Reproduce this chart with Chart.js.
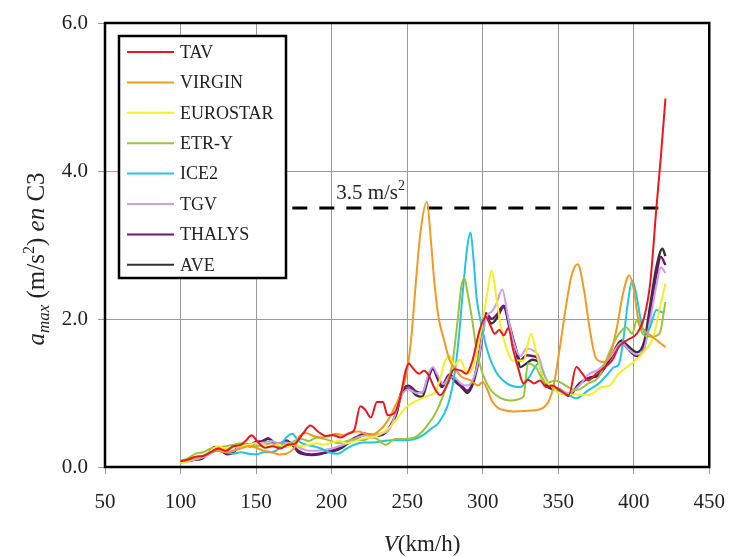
<!DOCTYPE html>
<html>
<head>
<meta charset="utf-8">
<script src="https://cdn.jsdelivr.net/npm/chart.js@4.4.1/dist/chart.umd.min.js"></script>
<style>
  html, body { margin: 0; padding: 0; background: #fff; }
  #wrap { width: 741px; height: 557px; position: relative; }
</style>
</head>
<body>
<div id="wrap"><canvas id="myChart"></canvas></div>
<script>
// series names and colours
var trainNames = ['TAV', 'VIRGIN', 'EUROSTAR', 'ETR-Y', 'ICE2', 'TGV', 'THALYS', 'AVE'];
var trainColors = ['#e8161e', '#f09a22', '#f6ee24', '#98c43a', '#22c4e0', '#c9a2e4', '#6c1676', '#333333'];

// V (km/h) and a_max (m/s2)
var tavSpeed = [100,105,110,115,120,125,130,135,140,143,147,151,156,161,166,171,176,181,186,191,196,201,206,211,215,219,222,226,230,234,237,241,245,249,251,254,258,261,264,268,272,277,281,286,289,293,298,302,305,308,311,314,317,320,324,327,330,334,338,342,346,351,357,362,366,370,375,381,386,390,396,402,407,411,415,418,421];
var tavAcc = [0.08,0.1,0.14,0.15,0.2,0.25,0.22,0.28,0.3,0.35,0.43,0.34,0.26,0.28,0.25,0.3,0.32,0.45,0.56,0.48,0.42,0.43,0.4,0.45,0.5,0.82,0.78,0.67,0.88,0.88,0.7,0.72,0.9,1.3,1.4,1.33,1.26,1.3,1.25,1.07,0.97,1.13,1.32,1.3,1.26,1.42,1.85,2.03,1.92,1.8,1.85,1.78,1.88,1.6,1.3,1.13,1.18,1.13,1.17,1.08,1.1,1.04,0.97,1.35,1.26,1.17,1.26,1.35,1.45,1.62,1.72,1.8,2.03,2.5,3.5,4.2,4.98];

var virginSpeed = [100,105,110,115,120,125,130,135,140,145,150,155,160,165,170,175,179,183,188,193,198,203,208,213,218,222,227,232,237,242,246,250,253,256,259,263,266,268,271,274,278,282,286,292,297,300,303,306,310,314,320,330,340,344,347,351,355,359,363,367,371,375,380,385,389,393,397,400,403,407,413,421];
var virginAcc = [0.08,0.1,0.12,0.15,0.2,0.22,0.2,0.22,0.25,0.28,0.26,0.22,0.2,0.17,0.18,0.25,0.42,0.46,0.42,0.4,0.42,0.45,0.43,0.47,0.48,0.45,0.44,0.5,0.62,0.82,1.0,1.3,1.8,2.55,3.2,3.58,3.0,2.5,2.0,1.75,1.45,1.32,1.22,1.17,1.1,1.15,1.05,0.9,0.8,0.77,0.75,0.76,0.8,0.9,1.1,1.6,2.15,2.6,2.74,2.4,1.85,1.47,1.42,1.55,1.9,2.35,2.59,2.4,2.0,1.85,1.75,1.62];

var eurostarSpeed = [100,105,110,115,120,125,130,135,140,145,150,155,160,165,170,175,180,185,190,195,200,205,210,215,220,225,230,235,240,245,250,255,260,265,269,272,275,278,281,285,290,294,299,303,306,309,312,315,320,327,332,336,340,346,351,360,370,379,384,390,400,406,413,417,421];
var eurostarAcc = [0.05,0.08,0.12,0.15,0.22,0.28,0.25,0.27,0.28,0.3,0.32,0.3,0.28,0.3,0.27,0.3,0.28,0.3,0.32,0.3,0.33,0.35,0.32,0.35,0.38,0.4,0.42,0.48,0.57,0.7,0.82,0.88,0.93,0.97,1.02,1.2,1.42,1.5,1.37,1.45,1.26,1.37,1.85,2.34,2.66,2.3,1.9,1.65,1.44,1.44,1.8,1.5,1.22,1.08,0.99,0.98,0.97,1.08,1.1,1.26,1.42,1.54,1.76,2.12,2.48];

var etrSpeed = [100,105,110,115,120,125,130,135,140,145,150,155,160,165,170,175,180,185,190,195,200,205,210,215,221,226,230,236,242,248,255,260,264,268,271,276,280,283,286,288,290,293,296,300,305,312,318,327,330,335,342,348,355,362,370,377,385,389,395,399,402,406,411,417,421];
var etrAcc = [0.08,0.12,0.18,0.2,0.25,0.27,0.28,0.3,0.32,0.3,0.28,0.3,0.32,0.28,0.3,0.35,0.38,0.35,0.4,0.38,0.35,0.32,0.35,0.38,0.36,0.4,0.38,0.3,0.38,0.38,0.4,0.48,0.58,0.7,0.82,1.1,1.4,1.9,2.45,2.55,2.35,2.0,1.58,1.26,1.05,0.93,0.9,0.95,1.4,1.35,1.13,1.17,1.1,1.04,1.13,1.22,1.6,1.76,1.89,1.8,1.98,1.8,1.76,1.8,2.23];

var iceSpeed = [100,105,110,115,120,125,130,135,140,145,150,155,160,165,170,174,178,183,188,193,198,204,210,215,221,228,234,240,247,254,262,266,271,277,281,284,287,290,292,294,296,299,303,309,316,325,331,337,341,346,355,362,370,377,383,387,390,393,396,399,402,405,408,411,415,420];
var iceAcc = [0.05,0.1,0.12,0.15,0.2,0.22,0.2,0.18,0.2,0.18,0.17,0.2,0.2,0.25,0.4,0.45,0.35,0.3,0.28,0.25,0.2,0.18,0.25,0.3,0.33,0.33,0.35,0.36,0.36,0.37,0.45,0.52,0.6,0.84,1.2,1.7,2.4,3.0,3.17,2.8,2.29,1.94,1.58,1.28,1.13,1.08,1.22,1.4,1.2,1.08,0.99,0.93,1.04,1.13,1.26,1.35,1.38,1.7,2.2,2.52,2.3,1.95,1.8,1.9,2.12,2.08];

var tgvSpeed = [100,105,110,115,120,125,130,135,140,145,150,155,160,165,170,175,180,185,190,195,200,205,210,215,220,226,232,238,242,246,251,256,260,264,267,270,274,278,282,286,290,294,297,300,303,306,309,313,317,321,325,329,333,337,340,344,351,357,364,370,377,385,392,396,402,407,411,415,418,421];
var tgvAcc = [0.06,0.08,0.1,0.13,0.18,0.24,0.2,0.22,0.28,0.3,0.32,0.33,0.35,0.32,0.33,0.3,0.25,0.22,0.22,0.23,0.25,0.28,0.32,0.38,0.42,0.43,0.45,0.5,0.7,0.95,1.05,1.0,1.0,1.25,1.35,1.25,1.12,1.22,1.2,1.12,1.1,1.2,1.42,1.8,2.05,2.1,2.2,2.4,2.0,1.65,1.5,1.6,1.58,1.5,1.3,1.12,1.05,1.0,1.1,1.25,1.32,1.5,1.68,1.6,1.52,1.6,2.0,2.45,2.7,2.62];

var thalysSpeed = [100,105,110,114,118,123,127,131,135,138,142,146,150,154,158,162,166,170,174,178,182,187,192,197,202,206,211,216,222,228,234,239,243,246,251,256,260,264,267,270,273,278,282,286,290,294,297,300,302,306,309,314,318,322,325,329,333,337,340,343,351,357,364,370,377,385,392,396,402,407,411,415,418,421];
var thalysAcc = [0.07,0.09,0.1,0.12,0.18,0.26,0.22,0.17,0.2,0.27,0.3,0.3,0.34,0.35,0.39,0.33,0.32,0.36,0.3,0.22,0.18,0.17,0.18,0.2,0.23,0.27,0.34,0.4,0.45,0.43,0.45,0.56,0.75,1.0,1.1,1.02,1.0,1.22,1.33,1.22,1.1,1.25,1.17,1.1,1.03,1.18,1.45,1.85,2.08,2.0,2.05,2.18,1.9,1.6,1.44,1.51,1.5,1.46,1.25,1.1,1.05,0.97,1.12,1.2,1.25,1.48,1.68,1.6,1.5,1.62,2.1,2.6,2.84,2.73];

var aveSpeed = [100,105,110,114,118,123,127,131,135,138,142,146,150,154,158,162,166,170,174,178,182,187,192,197,202,206,211,216,222,228,234,239,243,246,251,256,260,264,267,270,273,278,282,286,290,294,297,300,302,306,309,314,318,322,325,329,333,337,340,343,351,357,364,370,377,385,392,396,402,407,411,415,419,421];
var aveAcc = [0.07,0.08,0.1,0.11,0.18,0.27,0.22,0.18,0.2,0.27,0.31,0.28,0.33,0.34,0.38,0.32,0.3,0.35,0.3,0.2,0.17,0.16,0.17,0.2,0.22,0.25,0.32,0.38,0.44,0.42,0.44,0.55,0.72,0.97,1.06,0.97,0.95,1.2,1.33,1.2,1.08,1.24,1.15,1.08,1.0,1.15,1.4,1.8,2.03,1.94,2.0,2.16,1.86,1.58,1.35,1.4,1.45,1.42,1.22,1.08,1.04,0.96,1.13,1.2,1.24,1.49,1.71,1.64,1.55,1.7,2.2,2.7,2.95,2.85];

// 3.5 m/s2 limit
var limitSpeed = [174, 422];
var limitAcc = [3.5, 3.5];

var xTicks = [50, 100, 150, 200, 250, 300, 350, 400, 450];
var yTicks = [0, 2, 4, 6];

var allSpeed = [tavSpeed, virginSpeed, eurostarSpeed, etrSpeed, iceSpeed, tgvSpeed, thalysSpeed, aveSpeed];
var allAcc = [tavAcc, virginAcc, eurostarAcc, etrAcc, iceAcc, tgvAcc, thalysAcc, aveAcc];

var serif = '"Liberation Serif", "Times New Roman", serif';

function toPoints(xs, ys) {
    var pts = [];
    for (var i = 0; i < xs.length; i++) {
        pts.push({x: xs[i], y: ys[i]});
    }
    return pts;
}

var datasets = [];
// draw black ones last so they sit on top, like the picture
var order = [0, 1, 2, 3, 4, 5, 6, 7];
for (var k = 0; k < order.length; k++) {
    var i = order[k];
    datasets.push({
        label: trainNames[i],
        data: toPoints(allSpeed[i], allAcc[i]),
        borderColor: trainColors[i],
        backgroundColor: trainColors[i],
        borderWidth: (i >= 6) ? 2.4 : 2,
        pointRadius: 0,
        fill: false,
        cubicInterpolationMode: 'monotone'
    });
}
datasets.push({
    label: 'limit',
    data: toPoints(limitSpeed, limitAcc),
    borderColor: '#000',
    borderWidth: 3,
    borderDash: [15, 12],
    pointRadius: 0,
    fill: false
});

// draw mixed-font text pieces
function richText(ctx, parts, x, y, align) {
    var total = 0;
    parts.forEach(function (p) {
        ctx.font = p.f;
        p.w = ctx.measureText(p.t).width;
        total += p.w;
    });
    var cx = align === 'center' ? x - total / 2 : x;
    ctx.textAlign = 'left';
    ctx.textBaseline = 'alphabetic';
    parts.forEach(function (p) {
        ctx.font = p.f;
        ctx.fillText(p.t, cx, y + (p.dy || 0));
        cx += p.w;
    });
}

var decorations = {
    id: 'decorations',
    afterDraw: function (chart) {
        var ctx = chart.ctx;
        var a = chart.chartArea;
        var xs = chart.scales.x, ys = chart.scales.y;
        ctx.save();

        // frame
        ctx.strokeStyle = '#000';
        ctx.lineWidth = 2.5;
        ctx.strokeRect(a.left, a.top, a.right - a.left, a.bottom - a.top);

        // legend box
        var lx = 119, ly = 36, lw = 167, lh = 242;
        ctx.fillStyle = '#fff';
        ctx.fillRect(lx, ly, lw, lh);
        ctx.lineWidth = 2.5;
        ctx.strokeRect(lx, ly, lw, lh);
        ctx.font = '18px ' + serif;
        ctx.textBaseline = 'middle';
        ctx.textAlign = 'left';
        for (var i = 0; i < trainNames.length; i++) {
            var ry = 52 + i * 30.4;
            ctx.strokeStyle = trainColors[i];
            ctx.lineWidth = 2;
            ctx.beginPath();
            ctx.moveTo(127, ry);
            ctx.lineTo(174, ry);
            ctx.stroke();
            ctx.fillStyle = '#222';
            ctx.fillText(trainNames[i], 180, ry + 1);
        }

        ctx.fillStyle = '#222';
        // limit label
        richText(ctx, [
            {t: '3.5 m/s', f: '21px ' + serif},
            {t: '2', f: '14px ' + serif, dy: -9}
        ], xs.getPixelForValue(203), ys.getPixelForValue(3.5) - 9, 'left');

        // x title
        richText(ctx, [
            {t: 'V', f: 'italic 23px ' + serif},
            {t: '(km/h)', f: '23px ' + serif}
        ], 422, 551, 'center');

        // y title
        ctx.translate(44, 259);
        ctx.rotate(-Math.PI / 2);
        richText(ctx, [
            {t: 'a', f: 'italic 25px ' + serif},
            {t: 'max', f: 'italic 17px ' + serif, dy: 5},
            {t: ' (m/s', f: '25px ' + serif},
            {t: '2', f: '16px ' + serif, dy: -10},
            {t: ') ', f: '25px ' + serif},
            {t: 'en', f: 'italic 25px ' + serif},
            {t: ' C3', f: '25px ' + serif}
        ], 0, 0, 'center');
        ctx.restore();
    }
};

var ctx = document.getElementById('myChart');
var myChart = new Chart(ctx, {
    type: 'line',
    data: {datasets: datasets},
    options: {
        responsive: true,
        maintainAspectRatio: false,
        animation: false,
        layout: {padding: {top: 23, right: 17, left: 0, bottom: 0}},
        plugins: {
            legend: {display: false},
            tooltip: {enabled: false}
        },
        scales: {
            x: {
                type: 'linear',
                min: 50,
                max: 450,
                afterBuildTicks: function (scale) {
                    scale.ticks = xTicks.map(function (v) { return {value: v}; });
                },
                afterFit: function (scale) { scale.height = 90; },
                grid: {color: '#9a9a9a', lineWidth: 1, tickLength: 7, drawOnChartArea: true},
                border: {display: false},
                ticks: {
                    color: '#222',
                    padding: 16,
                    maxRotation: 0,
                    font: {family: serif, size: 21}
                }
            },
            y: {
                min: 0,
                max: 6,
                afterBuildTicks: function (scale) {
                    scale.ticks = yTicks.map(function (v) { return {value: v}; });
                },
                afterFit: function (scale) { scale.width = 105; },
                grid: {color: '#9a9a9a', lineWidth: 1, tickLength: 7},
                border: {display: false},
                ticks: {
                    color: '#222',
                    padding: 10,
                    font: {family: serif, size: 21},
                    callback: function (v) { return v.toFixed(1); }
                }
            }
        }
    },
    plugins: [decorations]
});
</script>
</body>
</html>
